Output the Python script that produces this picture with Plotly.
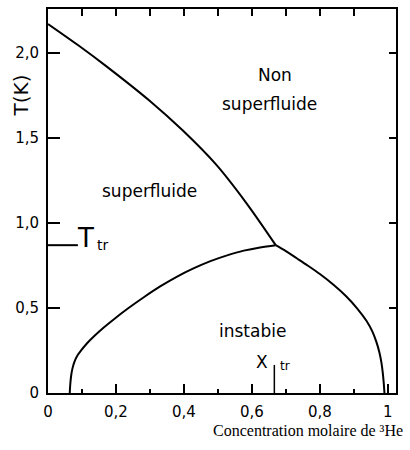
import plotly.graph_objects as go

# Lambda line: superfluid transition temperature vs 3He concentration
lambda_x = [0.0, 0.09, 0.173, 0.299, 0.396, 0.493, 0.581, 0.67]
lambda_T = [2.172, 2.045, 1.921, 1.72, 1.546, 1.348, 1.125, 0.87]

# Phase-separation curve, superfluid (4He-rich) branch
sep_left_x = [0.064, 0.0655, 0.068, 0.072, 0.078, 0.087, 0.098, 0.115, 0.137, 0.165, 0.195,
              0.237, 0.283, 0.33, 0.380, 0.428, 0.478, 0.527, 0.576, 0.624, 0.67]
sep_left_T = [0.0, 0.05, 0.10, 0.145, 0.185, 0.222, 0.252, 0.293, 0.337, 0.387, 0.436,
              0.50, 0.565, 0.627, 0.685, 0.733, 0.776, 0.81, 0.838, 0.857, 0.87]

# Phase-separation curve, normal (3He-rich) branch
sep_right_x = [0.67, 0.70, 0.732, 0.765, 0.8, 0.84, 0.878, 0.91, 0.937, 0.955, 0.966,
               0.975, 0.981, 0.985, 0.988, 0.99]
sep_right_T = [0.87, 0.835, 0.793, 0.749, 0.700, 0.637, 0.568, 0.497, 0.425, 0.36, 0.302,
               0.24, 0.18, 0.12, 0.057, 0.0]

# Tricritical point
X_TR = 0.67
T_TR = 0.87

x_ticks = [0, 0.2, 0.4, 0.6, 0.8, 1.0]
x_ticktext = ["0", "0,2", "0,4", "0,6", "0,8", "1"]
x_minor = [0.1, 0.3, 0.5, 0.7, 0.9]
x_top_ticks = [0.1, 0.2, 0.3, 0.4, 0.5, 0.6, 0.7, 0.8, 0.9]
y_ticks = [0, 0.5, 1.0, 1.5, 2.0]
y_ticktext = ["0", "0,5", "1,0", "1,5", "2,0"]

X_RANGE = [0, 1.024]
Y_RANGE = [0, 2.26]

SANS = "DejaVu Sans"
line = dict(color="black", width=2)

fig = go.Figure()
for xs, ys in [(lambda_x, lambda_T), (sep_left_x, sep_left_T), (sep_right_x, sep_right_T)]:
    fig.add_trace(go.Scatter(x=xs, y=ys, mode="lines",
                             line=dict(color="black", width=2, shape="spline", smoothing=1.0),
                             showlegend=False, hoverinfo="skip"))

# marker lines for T_tr on the T axis and X_tr on the concentration axis
fig.add_trace(go.Scatter(x=[0, 0.088], y=[T_TR, T_TR], mode="lines", line=line,
                         showlegend=False, hoverinfo="skip"))
fig.add_trace(go.Scatter(x=[X_TR - 0.004, X_TR - 0.004], y=[0, 0.165], mode="lines",
                         line=dict(color="black", width=1.5), showlegend=False, hoverinfo="skip"))

# empty trace to carry the top / right tick axes
fig.add_trace(go.Scatter(x=[None], y=[None], xaxis="x2", yaxis="y2", showlegend=False,
                         hoverinfo="skip"))

fig.update_layout(
    width=410, height=450,
    margin=dict(l=48, r=14, t=7, b=57),
    paper_bgcolor="white", plot_bgcolor="white",
    xaxis=dict(range=X_RANGE, tickvals=x_ticks, ticktext=x_ticktext, ticks="inside",
               ticklen=9, tickwidth=2, tickcolor="black", showline=True, linewidth=2,
               linecolor="black", mirror=True, showgrid=False, zeroline=False,
               ticklabelstandoff=4,
               minor=dict(tickvals=x_minor, ticks="inside", ticklen=4, tickwidth=1.5,
                          tickcolor="black", showgrid=False),
               tickfont=dict(family=SANS, size=15, color="black")),
    yaxis=dict(range=Y_RANGE, tickvals=y_ticks, ticktext=y_ticktext, ticks="inside",
               ticklen=12, tickwidth=2, tickcolor="black", showline=True, linewidth=2,
               linecolor="black", mirror=True, showgrid=False, zeroline=False,
               ticklabelstandoff=4,
               tickfont=dict(family=SANS, size=15, color="black")),
    xaxis2=dict(range=X_RANGE, overlaying="x", side="top", tickvals=x_top_ticks,
                ticks="inside", ticklen=7, tickwidth=1.5, tickcolor="black",
                showticklabels=False, showgrid=False, zeroline=False, showline=False),
    yaxis2=dict(range=Y_RANGE, overlaying="y", side="right", tickvals=y_ticks[1:],
                ticks="inside", ticklen=7, tickwidth=1.5, tickcolor="black",
                showticklabels=False, showgrid=False, zeroline=False, showline=False),
)

def label(text, x, y, size, family=SANS, **kw):
    fig.add_annotation(text=text, x=x, y=y, showarrow=False, xanchor=kw.pop("xanchor", "center"),
                       yanchor="middle", font=dict(family=family, size=size, color="black"), **kw)

label("Non", 0.668, 1.871, 17)
label("superfluide", 0.653, 1.702, 17)
label("superfluide", 0.30, 1.19, 17)
label("instabie", 0.603, 0.363, 17)
label("X", 0.63, 0.18, 17)
label("tr", 0.697, 0.158, 12)
label("T", 0.109, 0.912, 26)
label("tr", 0.159, 0.87, 14)
label("T(K)", -0.078, 1.75, 20, xref="paper", textangle=-90)
label("Concentration molaire de ³He", 1.026, -0.098, 16, family="Liberation Serif",
      xref="paper", yref="paper", xanchor="right")

fig.write_html("out.html")
